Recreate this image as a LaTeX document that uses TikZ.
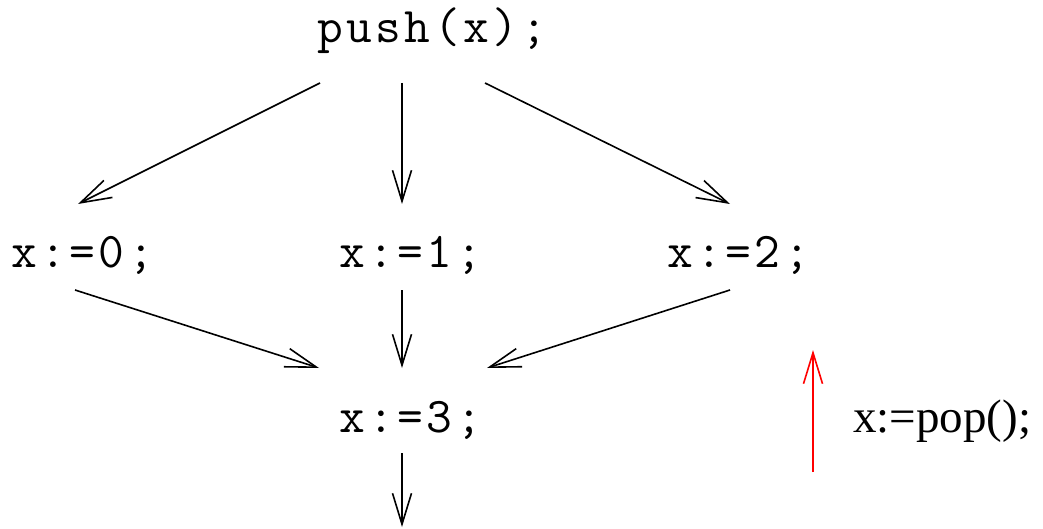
\documentclass[tikz,border=0pt]{standalone}
\usepackage{fontspec}
\newfontfamily\codef[LetterSpace=7]{Latin Modern Mono}
\newfontfamily\timesf{Liberation Serif}
\usetikzlibrary{arrows.meta}
\tikzset{
  code/.style={inner sep=0pt, anchor=base west, font=\codef\fontsize{50}{54}\selectfont},
  note/.style={inner sep=0pt, anchor=base west, font=\timesf\fontsize{47}{50}\selectfont},
  flow/.style={line width=1.6pt, -{Straight Barb[length=31pt,width=19pt,line width=1.6pt]}},
  popflow/.style={flow, red}
}
\begin{document}
\begin{tikzpicture}[x=1pt,y=-1pt]
\useasboundingbox (0,0) rectangle (1043,529);
% text nodes
\node[code] (push) at (317,43) {push(x);};
\node[code] (a0) at (11,267) {x:=0;};
\node[code] (a1) at (339,267) {x:=1;};
\node[code] (a2) at (667,267) {x:=2;};
\node[code] (a3) at (339,432) {x:=3;};
\node[note] (pop) at (853,432) {x:=pop();};
% connector end points
\coordinate (pL) at (320,83);
\coordinate (pM) at (402,83);
\coordinate (pR) at (485,83);
\coordinate (a0t) at (78,204);
\coordinate (a1t) at (402,204);
\coordinate (a2t) at (730,204);
\coordinate (a0b) at (75,290);
\coordinate (a1b) at (402,290);
\coordinate (a2b) at (730,290);
\coordinate (a3tl) at (319,368);
\coordinate (a3tm) at (402,368);
\coordinate (a3tr) at (487,368);
\coordinate (a3b) at (402,453);
\coordinate (out) at (402,527);
\coordinate (rs) at (813,472);
\coordinate (re) at (813,350);
% connectors
\draw[flow] (pL) -- (a0t);
\draw[flow] (pM) -- (a1t);
\draw[flow] (pR) -- (a2t);
\draw[flow] (a0b) -- (a3tl);
\draw[flow] (a1b) -- (a3tm);
\draw[flow] (a2b) -- (a3tr);
\draw[flow] (a3b) -- (out);
\draw[popflow] (rs) -- (re);
\end{tikzpicture}
\end{document}
